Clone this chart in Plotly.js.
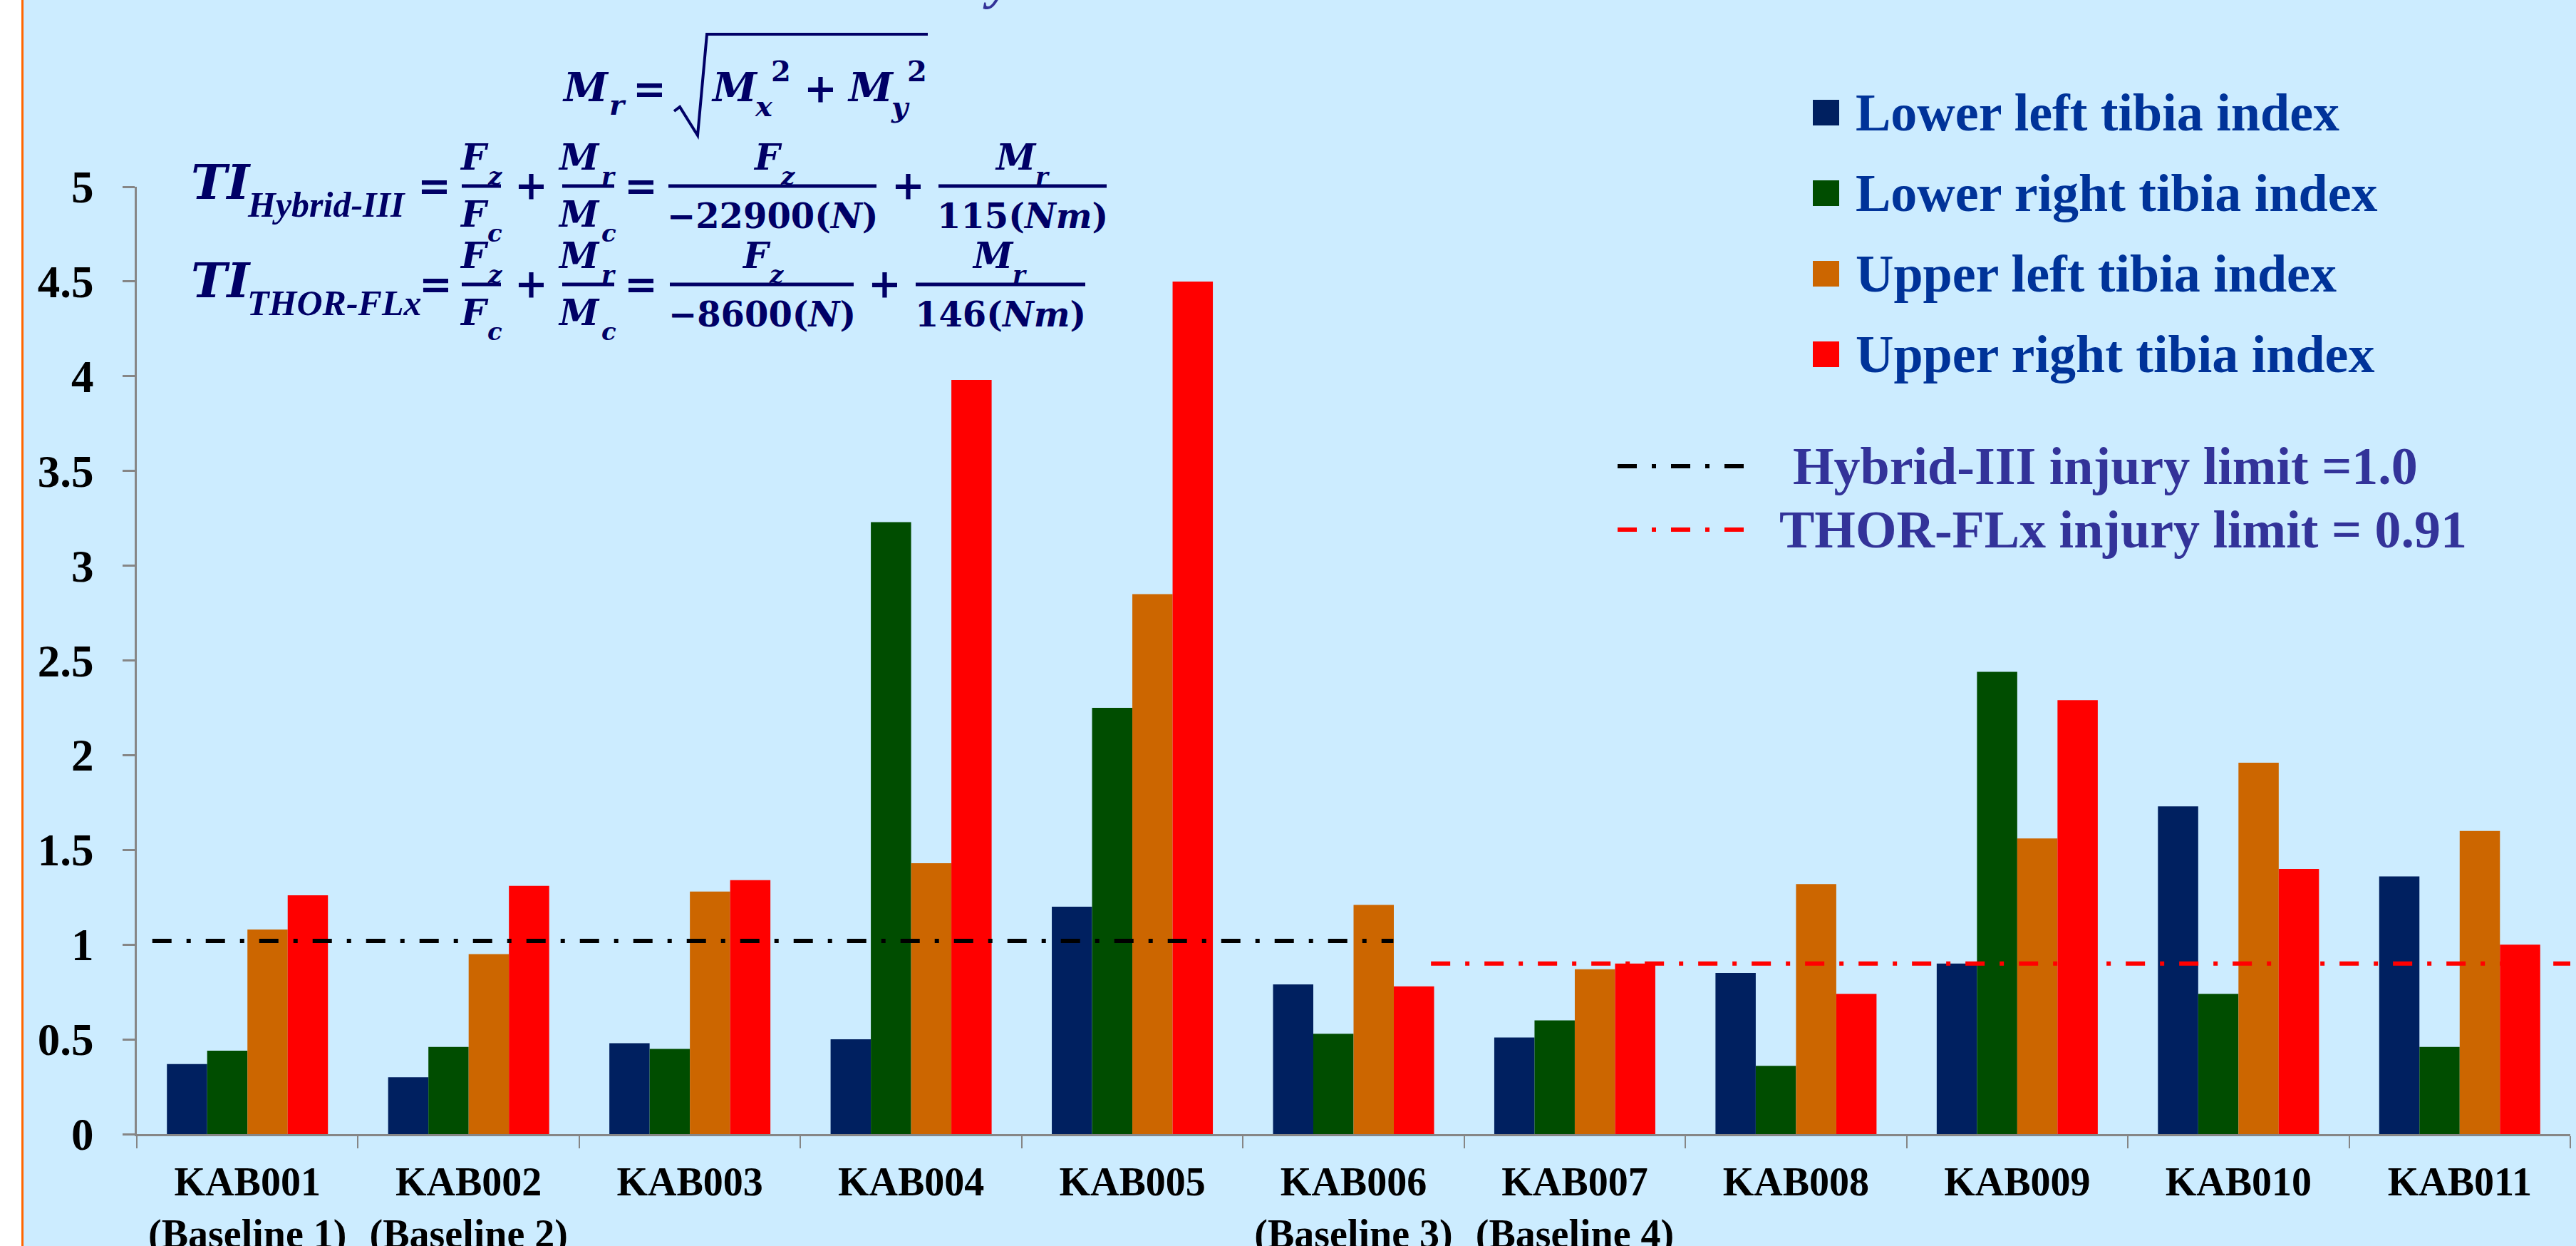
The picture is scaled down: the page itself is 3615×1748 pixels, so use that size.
<!DOCTYPE html>
<html>
<head>
<meta charset="utf-8">
<script src="https://cdn.plot.ly/plotly-3.0.1.min.js"></script>
<style>
html,body{margin:0;padding:0;background:#CCECFF;}
#chart{width:3615px;height:1748px;}
</style>
</head>
<body>
<div id="chart"></div>
<script>
// ---------------- DATA ----------------
const categories = ['KAB001','KAB002','KAB003','KAB004','KAB005','KAB006','KAB007','KAB008','KAB009','KAB010','KAB011'];
const tickLabels = ['KAB001<br>(Baseline 1)','KAB002<br>(Baseline 2)','KAB003','KAB004','KAB005',
                    'KAB006<br>(Baseline 3)','KAB007<br>(Baseline 4)','KAB008','KAB009','KAB010','KAB011'];
const lowerLeft  = [0.37, 0.30, 0.48, 0.50, 1.20, 0.79, 0.51, 0.85, 0.90, 1.73, 1.36];
const lowerRight = [0.44, 0.46, 0.45, 3.23, 2.25, 0.53, 0.60, 0.36, 2.44, 0.74, 0.46];
const upperLeft  = [1.08, 0.95, 1.28, 1.43, 2.85, 1.21, 0.87, 1.32, 1.56, 1.96, 1.60];
const upperRight = [1.26, 1.31, 1.34, 3.98, 4.50, 0.78, 0.90, 0.74, 2.29, 1.40, 1.00];
const seriesNames = ['Lower left tibia index','Lower right tibia index','Upper left tibia index','Upper right tibia index'];
const seriesColors = ['#002060','#004D00','#CC6600','#FF0000'];
const hybridLimitX = [-0.43, 5.18];
const hybridLimitY = [1.02, 1.02];
const thorLimitX = [5.35, 10.5];
const thorLimitY = [0.90, 0.90];
const limitNames = ['Hybrid-III injury limit =1.0','THOR-FLx injury limit = 0.91'];
const yTicks = [0,0.5,1,1.5,2,2.5,3,3.5,4,4.5,5];

// ---------------- GEOMETRY HELPERS ----------------
const W = 3615, H = 1748;
const mL = 192, mR = 8, mT = 262, mB = 157;
const pw = W - mL - mR, ph = H - mT - mB;
const P = x => (x - mL) / pw;
const Q = y => (H - mB - y) / ph;

const FF = 'DejaVu Serif';
const FCOL = '#000066';
function A(text, x, y, size, o) {
  o = o || {};
  return {xref:'paper', yref:'paper', x:P(x), y:Q(y), text:text, showarrow:false,
          xanchor:o.xa || 'center', yanchor:'middle',
          font:{family:o.family || FF, size:size, color:o.color || FCOL,
                weight:o.weight || 'bold', style:o.style || 'italic'}};
}
function bar(x0, x1, y, w, c) {
  return {type:'line', xref:'paper', yref:'paper', x0:P(x0), x1:P(x1), y0:Q(y), y1:Q(y),
          line:{color:c || FCOL, width:w || 5}};
}
const UP = {style:'normal'};
const LS = {family:'Liberation Serif', xa:'left'};

const annotations = [];
const shapes = [];

// Formula line 1 : Mr = sqrt(Mx^2 + My^2)
annotations.push(A('M', 822, 122, 56), A('r', 867, 147, 40), A('=', 911, 124, 56, UP),
  A('M', 1031, 122, 56), A('x', 1072, 149, 40), A('2', 1096, 99, 40, UP),
  A('+', 1151, 124, 56, UP),
  A('M', 1222, 122, 56), A('y', 1263, 150, 40), A('2', 1287, 99, 40, UP));
shapes.push({type:'path', xref:'paper', yref:'paper',
  path:'M'+P(946)+','+Q(156)+' L'+P(954)+','+Q(150)+' L'+P(979)+','+Q(190)+' L'+P(992)+','+Q(48)+' L'+P(1302)+','+Q(48),
  line:{color:FCOL, width:4}});

// Formula lines 2 and 3
function tiLine(B, sub, eqX, f3, den3, plus2, f4, den4, num3F, num4M) {
  annotations.push(A('TI', 310, B - 6, 68), A(sub, 345, B + 26, 50, LS));
  annotations.push(A('=', eqX, B - 1, 56, UP));
  shapes.push(bar(648, 703, B));
  annotations.push(A('F', 665, B - 41, 50), A('z', 694, B - 14, 34), A('F', 665, B + 39, 50), A('c', 694, B + 66, 34));
  annotations.push(A('+', 745, B - 1, 56, UP));
  shapes.push(bar(789, 862, B));
  annotations.push(A('M', 812, B - 41, 50), A('r', 854, B - 14, 34), A('M', 812, B + 39, 50), A('c', 854, B + 66, 34));
  annotations.push(A('=', 899, B - 1, 56, UP));
  shapes.push(bar(f3[0], f3[1], B));
  annotations.push(A('F', num3F, B - 41, 50), A('z', num3F + 28, B - 14, 34), A(den3, (f3[0] + f3[1]) / 2, B + 42, 48, UP));
  annotations.push(A('+', plus2, B - 1, 56, UP));
  shapes.push(bar(f4[0], f4[1], B));
  annotations.push(A('M', num4M, B - 41, 50), A('r', num4M + 38, B - 14, 34), A(den4, (f4[0] + f4[1]) / 2, B + 42, 48, UP));
}
tiLine(261, 'Hybrid-III', 609, [938, 1230], '\u221222900(<i>N</i>)', 1274, [1317, 1553], '115(<i>Nm</i>)', 1077, 1425);
tiLine(399, 'THOR-FLx', 611, [940, 1198], '\u22128600(<i>N</i>)', 1241, [1285, 1523], '146(<i>Nm</i>)', 1061, 1393);

// cut-off title fragment at the very top
annotations.push(A('y', 1400, -28, 74, {family:'Liberation Serif', color:'#333399'}));

// ---------------- LEGEND (drawn) ----------------
const legY = [158, 271, 384, 497];
for (let i = 0; i < 4; i++) {
  shapes.push({type:'rect', xref:'paper', yref:'paper', x0:P(2544), x1:P(2581), y0:Q(legY[i] + 18), y1:Q(legY[i] - 18),
               fillcolor:seriesColors[i], line:{width:0}});
  annotations.push(A(seriesNames[i], 2602, legY[i], 74, {family:'Liberation Serif', xa:'left', style:'normal', color:'#003399'}));
}
const DASH = '27px,21px,6px,21px';
shapes.push({type:'line', xref:'paper', yref:'paper', x0:P(2270), x1:P(2458), y0:Q(654), y1:Q(654), line:{color:'#000000', width:6, dash:DASH}});
shapes.push({type:'line', xref:'paper', yref:'paper', x0:P(2270), x1:P(2456), y0:Q(743), y1:Q(743), line:{color:'#FF0000', width:6, dash:DASH}});
annotations.push(A(limitNames[0], 2514, 654, 74, {family:'Liberation Serif', xa:'left', style:'normal', color:'#333399'}));
annotations.push(A(limitNames[1], 2495, 743, 74, {family:'Liberation Serif', xa:'left', style:'normal', color:'#333399'}));

// left frame: white strip + orange rule
shapes.push({type:'rect', xref:'paper', yref:'paper', x0:P(0), x1:P(30), y0:Q(H), y1:Q(0), fillcolor:'#FFFFFF', line:{width:0}});
shapes.push({type:'line', xref:'paper', yref:'paper', x0:P(31.5), x1:P(31.5), y0:Q(H), y1:Q(0), line:{color:'#FF6600', width:3}});

// ---------------- TRACES ----------------
const seriesValues = [lowerLeft, lowerRight, upperLeft, upperRight];
const traces = seriesValues.map((vals, i) => ({
  type:'bar', x:categories, y:vals, name:seriesNames[i],
  marker:{color:seriesColors[i], line:{width:0}}, showlegend:false, hoverinfo:'skip'
}));
traces.push({type:'scatter', mode:'lines', x:hybridLimitX, y:hybridLimitY, xaxis:'x2', yaxis:'y',
  line:{color:'#000000', width:6, dash:DASH}, name:limitNames[0], showlegend:false, hoverinfo:'skip'});
traces.push({type:'scatter', mode:'lines', x:thorLimitX, y:thorLimitY, xaxis:'x2', yaxis:'y',
  line:{color:'#FF0000', width:6, dash:DASH}, name:limitNames[1], showlegend:false, hoverinfo:'skip'});

const layout = {
  width:W, height:H,
  margin:{l:mL, r:mR, t:mT, b:mB, pad:0},
  paper_bgcolor:'#CCECFF', plot_bgcolor:'#CCECFF',
  barmode:'group', bargap:0.272, bargroupgap:0,
  showlegend:false,
  xaxis:{type:'category', tickmode:'array', tickvals:categories, ticktext:tickLabels,
         showline:true, linecolor:'#868686', linewidth:3, ticks:'outside', tickson:'boundaries',
         ticklen:17, tickwidth:2, tickcolor:'#868686', showgrid:false, zeroline:false,
         ticklabelstandoff:16,
         tickfont:{family:'Liberation Serif', size:56, color:'#000000', weight:'bold'}},
  xaxis2:{type:'linear', overlaying:'x', range:[-0.5, 10.5], visible:false},
  yaxis:{range:[0, 5], tickmode:'array', tickvals:yTicks, showline:true, linecolor:'#868686', linewidth:3,
         ticks:'outside', ticklen:17, tickwidth:3, tickcolor:'#868686', showgrid:false, zeroline:false,
         ticklabelstandoff:28,
         tickfont:{family:'Liberation Serif', size:63, color:'#000000', weight:'bold'}},
  annotations:annotations,
  shapes:shapes
};

Plotly.newPlot('chart', traces, layout, {staticPlot:true, displayModeBar:false});
</script>
</body>
</html>
